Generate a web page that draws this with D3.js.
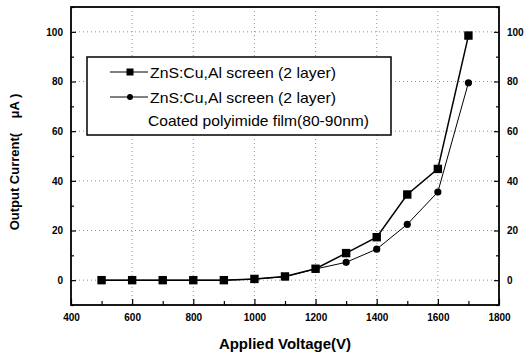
<!DOCTYPE html>
<html><head><meta charset="utf-8">
<script src="https://cdn.jsdelivr.net/npm/d3@7"></script>
<style>body{margin:0;background:#fff}svg{display:block}text{font-family:"Liberation Sans",Arial,sans-serif}</style>
</head><body>
<svg id="c" width="532" height="354"></svg>
<script>
const voltages = [500,600,700,800,900,1000,1100,1200,1300,1400,1500,1600,1700];
const seriesSquare = [0,0,0,0,0,0.5,1.5,4.6,10.9,17.3,34.5,44.8,98.5];
const seriesCircle = [0,0,0,0,0,0.4,1.4,4.5,7.2,12.5,22.5,35.5,79.5];
const xTicks = [400,600,800,1000,1200,1400,1600,1800];
const yTicks = [0,20,40,60,80,100];
const legendLabels = ["ZnS:Cu,Al screen (2 layer)","ZnS:Cu,Al screen (2 layer)","Coated polyimide film(80-90nm)"];

const svg = d3.select("#c");
const L=71,R=499,T=7,B=305;
const x = d3.scaleLinear().domain([400,1800]).range([L,R]);
const y = d3.scaleLinear().domain([-10,110]).range([B,T]);

// grid
const g = svg.append("g");
g.selectAll("line.gx").data(xTicks.slice(1,-1)).join("line")
 .attr("x1",d=>x(d)).attr("x2",d=>x(d)).attr("y1",T).attr("y2",B)
 .attr("stroke","#666").attr("stroke-width",0.7).attr("stroke-dasharray","1,3");
g.selectAll("line.gy").data(yTicks).join("line")
 .attr("y1",d=>y(d)).attr("y2",d=>y(d)).attr("x1",L).attr("x2",R)
 .attr("stroke","#666").attr("stroke-width",0.7).attr("stroke-dasharray","1,3");

// axes
const fmt = d3.format("d");
const ax = svg.append("g").attr("transform",`translate(0,${B})`)
 .call(d3.axisBottom(x).tickValues(d3.range(400,1801,100)).tickSize(-5).tickFormat(d=>xTicks.includes(d)?fmt(d):"").tickPadding(9));
ax.selectAll(".tick line").attr("y2",d=>d%200===0?-6:-4);
const ay = svg.append("g").attr("transform",`translate(${L},0)`)
 .call(d3.axisLeft(y).tickValues(d3.range(-10,111,10)).tickSize(-4).tickFormat(d=>yTicks.includes(d)?fmt(d):"").tickPadding(8));
ay.selectAll(".tick line").attr("x2",d=>d%20===0?5:3);
const ar = svg.append("g").attr("transform",`translate(${R},0)`)
 .call(d3.axisRight(y).tickValues(d3.range(-10,111,10)).tickSize(-4).tickFormat(d=>yTicks.includes(d)?fmt(d):"").tickPadding(8));
ar.selectAll(".tick line").attr("x2",d=>d%20===0?-5:-3);
[ax,ay,ar].forEach(a=>{a.select(".domain").remove();
 a.selectAll("text").attr("font-size",10).attr("font-weight","bold").attr("fill","#000");
 a.selectAll(".tick line").attr("stroke","#000").attr("stroke-width",1.2);});

// frame
svg.append("rect").attr("x",L).attr("y",T).attr("width",R-L).attr("height",B-T)
 .attr("fill","none").attr("stroke","#000").attr("stroke-width",1.8);

// lines
const data1 = voltages.map((v,i)=>[v,seriesSquare[i]]);
const data2 = voltages.map((v,i)=>[v,seriesCircle[i]]);
const line = d3.line().x(d=>x(d[0])).y(d=>y(d[1]));
svg.append("path").attr("d",line(data2)).attr("fill","none").attr("stroke","#000").attr("stroke-width",1);
svg.append("path").attr("d",line(data1)).attr("fill","none").attr("stroke","#000").attr("stroke-width",1.5);
svg.selectAll("circle.c").data(data2).join("circle").attr("cx",d=>x(d[0])).attr("cy",d=>y(d[1])).attr("r",3.6).attr("fill","#000");
svg.selectAll("rect.s").data(data1).join("rect").attr("x",d=>x(d[0])-4.2).attr("y",d=>y(d[1])-4.2).attr("width",8.4).attr("height",8.4).attr("fill","#000");

// legend
const lg = svg.append("g");
lg.append("rect").attr("x",87).attr("y",57).attr("width",304).attr("height",78).attr("fill","#fff").attr("stroke","#000").attr("stroke-width",1.5);
const rowsY=[72,97,120];
const rowW=[186,186,221];
lg.append("line").attr("x1",110).attr("x2",148).attr("y1",rowsY[0]).attr("y2",rowsY[0]).attr("stroke","#000").attr("stroke-width",1.2);
lg.append("rect").attr("x",130-3.5).attr("y",rowsY[0]-3.5).attr("width",7).attr("height",7).attr("fill","#000");
lg.append("line").attr("x1",110).attr("x2",148).attr("y1",rowsY[1]).attr("y2",rowsY[1]).attr("stroke","#000").attr("stroke-width",1);
lg.append("circle").attr("cx",130).attr("cy",rowsY[1]).attr("r",3).attr("fill","#000");
lg.selectAll("text").data(legendLabels).join("text")
 .attr("x",(d,i)=>i<2?150:148).attr("y",(d,i)=>rowsY[i]+5.5).attr("font-size",15).attr("fill","#000")
 .attr("textLength",(d,i)=>rowW[i]).attr("lengthAdjust","spacingAndGlyphs").text(d=>d);

// axis titles
svg.append("text").attr("x",(L+R)/2).attr("y",349).attr("text-anchor","middle").attr("font-size",15).attr("font-weight","bold").text("Applied Voltage(V)");
svg.append("text").attr("transform","translate(19,162) rotate(-90)").attr("text-anchor","middle").attr("font-size",13).attr("font-weight","bold").attr("xml:space","preserve").text("Output Current(    μA )");
</script>
</body></html>
